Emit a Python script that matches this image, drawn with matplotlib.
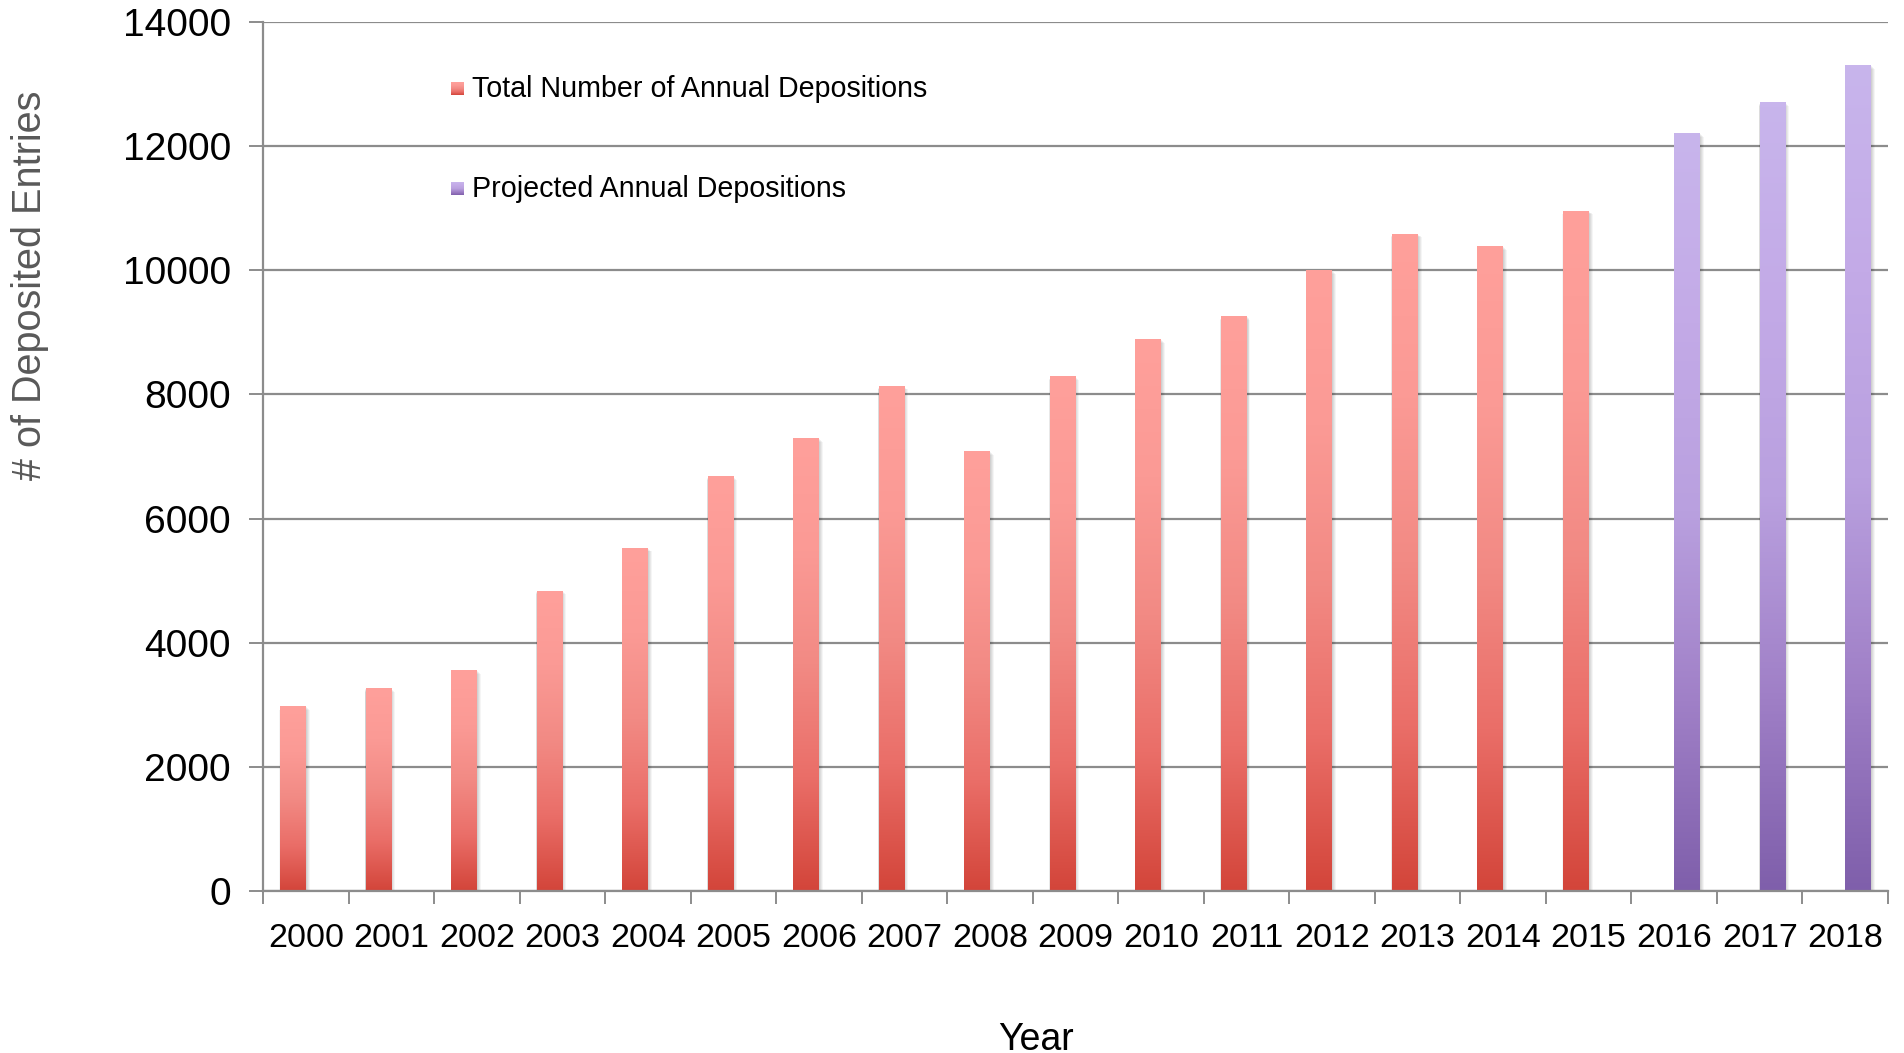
import numpy as np
import matplotlib
matplotlib.use("Agg")
import matplotlib.pyplot as plt
from matplotlib.colors import LinearSegmentedColormap
from matplotlib.patches import Rectangle

# ---- data ----
years = [str(y) for y in range(2000, 2019)]
actual = [2980, 3270, 3560, 4840, 5530, 6680, 7300, 8140, 7090, 8300,
          8890, 9260, 10000, 10590, 10390, 10960]
projected = [12210, 12710, 13300]
label_actual = "Total Number of Annual Depositions"
label_proj = "Projected Annual Depositions"
y_ticks = [0, 2000, 4000, 6000, 8000, 10000, 12000, 14000]

plt.rcParams['font.family'] = ['Liberation Sans', 'DejaVu Sans']

red_cmap = LinearSegmentedColormap.from_list(
    "red_grad", [(0.0, "#d3453a"), (0.25, "#ea6e68"), (0.5, "#f28a84"),
                 (0.75, "#fb9a95"), (1.0, "#ffa09b")])
purple_cmap = LinearSegmentedColormap.from_list(
    "purple_grad", [(0.0, "#7f5fab"), (0.25, "#a080c7"), (0.5, "#b9a0df"),
                    (0.75, "#c3aae7"), (1.0, "#c8b5ec")])

fig = plt.figure(figsize=(19.04, 10.53), dpi=100)
ax = fig.add_axes([263 / 1904, 1 - 891 / 1053, (1888 - 263) / 1904, (891 - 22) / 1053])

grid_col = "#8c8c8c"
width = 0.3
grad = np.linspace(0, 1, 256).reshape(-1, 1)

def gradient_bars(xs, vals, cmap):
    bars = ax.bar(xs, vals, width=width, facecolor="none", edgecolor="none", zorder=3)
    for b in bars:
        x0, w, h = b.get_x(), b.get_width(), b.get_height()
        # soft drop shadow
        for k, a in enumerate([0.05, 0.05, 0.05, 0.04]):
            d = 0.006 * (k + 1)
            ax.add_patch(Rectangle((x0 - d * 0.3, -25 * (k + 1)), w + d * 2.2, h + 10 * (k + 1),
                                   facecolor="black", edgecolor="none", alpha=a, zorder=2.5))
        im = ax.imshow(grad, cmap=cmap, extent=(x0, x0 + w, 0, h), origin="lower",
                       aspect="auto", zorder=3, interpolation="bicubic")
        im.set_clip_path(b)
    return bars

n_act = len(actual)
x_act = np.arange(n_act) - 0.15
x_proj = np.arange(n_act, n_act + len(projected)) + 0.15
gradient_bars(x_act, actual, red_cmap)
gradient_bars(x_proj, projected, purple_cmap)

ax.set_xlim(-0.5, len(years) - 0.5)
ax.set_ylim(0, 14000)

# axes styling
for s in ["top", "right"]:
    ax.spines[s].set_visible(False)
for s in ["left", "bottom"]:
    ax.spines[s].set_color(grid_col)
    ax.spines[s].set_linewidth(1.6)
    ax.spines[s].set_zorder(4)

ax.set_yticks(y_ticks)
ax.set_yticklabels([str(v) for v in y_ticks], fontsize=28)
ax.tick_params(axis="y", length=10, width=1.4, color=grid_col, pad=13)
ax.yaxis.grid(True, color=grid_col, linewidth=1.6, zorder=1)
ax.set_axisbelow(True)

# year labels centred, ticks at category boundaries
ax.set_xticks(np.arange(len(years) + 1) - 0.5)
ax.set_xticklabels([])
ax.tick_params(axis="x", which="major", length=9, width=1.4, color=grid_col)
ax.set_xticks(np.arange(len(years)), minor=True)
ax.set_xticklabels(years, minor=True, fontsize=24.5)
ax.tick_params(axis="x", which="minor", length=0, pad=23)

fig.text(30 / 1904, 1 - 285 / 1053, "# of Deposited Entries", rotation=90,
         ha="center", va="center", fontsize=28.5, color="#595959")
fig.text(1036 / 1904, 1 - 1040 / 1053, "Year", ha="center", va="center",
         fontsize=27, color="black")

# legend
for ytop, cmap, lab in [(82, red_cmap, label_actual), (182, purple_cmap, label_proj)]:
    lax = fig.add_axes([451 / 1904, 1 - (ytop + 13) / 1053, 13 / 1904, 13 / 1053])
    lax.imshow(grad, cmap=cmap, origin="lower", aspect="auto")
    lax.set_axis_off()
    fig.text(472 / 1904, 1 - (ytop + 7) / 1053, lab, ha="left", va="center",
             fontsize=20.6, color="black")

fig.savefig("out.png", dpi=100)
